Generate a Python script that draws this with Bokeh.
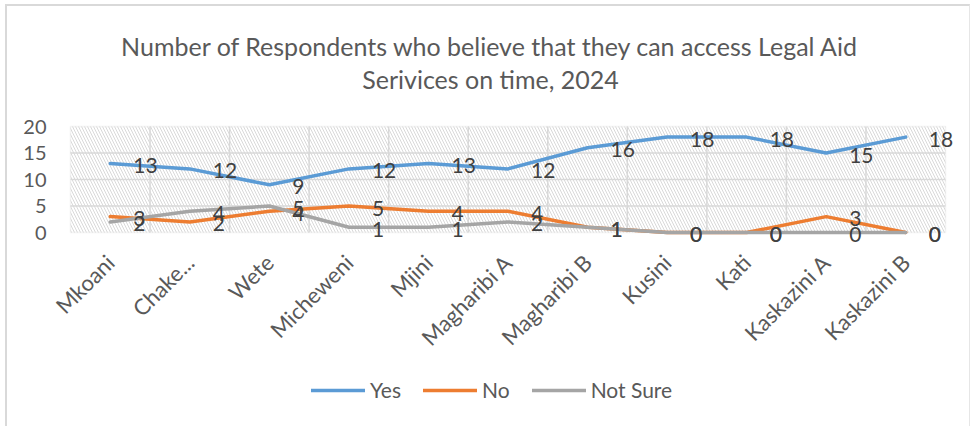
import math
from bokeh.plotting import figure
from bokeh.models import (ColumnDataSource, LabelSet, Label, Legend, LegendItem,
                          BoxAnnotation, FixedTicker, Range1d)
from bokeh.core.properties import value
from bokeh.embed import file_html
from bokeh.resources import INLINE

# ---------------- data ----------------
categories = ["Mkoani", "Chake...", "Wete", "Micheweni", "Mjini", "Magharibi A",
              "Magharibi B", "Kusini", "Kati", "Kaskazini A", "Kaskazini B"]
yes = [13, 12, 9, 12, 13, 12, 16, 18, 18, 15, 18]
no = [3, 2, 4, 5, 4, 4, 1, 0, 0, 3, 0]
not_sure = [2, 4, 5, 1, 1, 2, 1, 0, 0, 0, 0]
series_names = ["Yes", "No", "Not Sure"]
title_lines = ["Number of Respondents who believe that they can access Legal Aid",
               "Serivices on time, 2024"]
y_ticks = [0, 5, 10, 15, 20]

# ---------------- style / layout ----------------
colors = ["#5B9BD5", "#ED7D31", "#A5A5A5"]
FONT = "Lato"
TEXT = "#595959"
GRID = "#d9d9d9"
W, H = 965, 422            # canvas size
PLOT_L, PLOT_R = 63, 938   # plot area in canvas px
PLOT_T, PLOT_B = 120, 226

n = len(categories)
xs = [i + 0.5 for i in range(n)]
ymin, ymax = y_ticks[0], y_ticks[-1]
px_x = (PLOT_R - PLOT_L) / n
px_y = (PLOT_B - PLOT_T) / (ymax - ymin)
x_range = Range1d(-PLOT_L / px_x, n + (W - PLOT_R) / px_x)
y_range = Range1d(ymin - (H - PLOT_B) / px_y, ymax + PLOT_T / px_y)

p = figure(width=W, height=H, x_range=x_range, y_range=y_range,
           output_backend="svg", toolbar_location=None, title_location=None,
           min_border=0)
p.styles = {"margin-left": "5px", "margin-top": "4px",
            "border-left": "2px solid #d9d9d9", "border-top": "2px solid #d9d9d9",
            "border-right": "1px solid #e6e6e6"}
p.background_fill_color = "white"
p.border_fill_color = "white"
p.outline_line_color = None
p.grid.visible = False

# hatched plot area with outline
p.add_layout(BoxAnnotation(left=0, right=n, bottom=ymin, top=ymax,
                           fill_alpha=0, line_color=GRID, line_width=1.5,
                           hatch_pattern="\\", hatch_color=GRID, hatch_scale=6,
                           hatch_weight=1, level="image"))

# grid lines restricted to plot area
bounds = list(range(1, n))
p.segment(x0=bounds, x1=bounds, y0=[ymin] * len(bounds), y1=[ymax] * len(bounds),
          line_color=GRID, line_width=1.5, level="underlay")
inner_y = y_ticks[1:-1]
p.segment(x0=[0] * len(inner_y), x1=[n] * len(inner_y), y0=inner_y, y1=inner_y,
          line_color=GRID, line_width=1.5, level="underlay")

# axes fixed at the plot area edges
p.xaxis.fixed_location = 0
p.yaxis.fixed_location = 0
p.xaxis.ticker = FixedTicker(ticks=xs)
p.xaxis.major_label_overrides = {x: c for x, c in zip(xs, categories)}
p.xaxis.major_label_orientation = math.pi / 4
p.yaxis.ticker = FixedTicker(ticks=y_ticks)
for ax in (p.xaxis, p.yaxis):
    ax.axis_line_color = None
    ax.major_tick_line_color = None
    ax.minor_tick_line_color = None
    ax.major_label_text_font = FONT
    ax.major_label_text_color = TEXT
p.xaxis.major_label_text_font_size = "22px"
p.yaxis.major_label_text_font_size = "20px"
p.yaxis.major_label_standoff = 18
p.xaxis.major_label_standoff = 20

items = []
for name, vals, col in zip(series_names, [yes, no, not_sure], colors):
    r = p.line(x=xs, y=vals, line_color=col, line_width=3.5,
               line_join="round", line_cap="round")
    items.append(LegendItem(label=name, renderers=[r]))

for vals in [yes, no, not_sure]:
    src = ColumnDataSource(dict(x=xs, y=vals, t=[str(v) for v in vals]))
    p.add_layout(LabelSet(x="x", y="y", text="t", source=src, x_offset=23,
                          y_offset=-2, text_align="left", text_baseline="middle",
                          text_font=value(FONT), text_font_size="21px",
                          text_color="#404040"))

legend = Legend(items=items, orientation="horizontal", location=(304, 26),
                padding=0, margin=0, spacing=22, glyph_width=54, glyph_height=20,
                label_standoff=5, border_line_color=None, background_fill_alpha=0,
                label_text_font=FONT, label_text_font_size="21px",
                label_text_color=TEXT)
p.add_layout(legend)

for txt, ty in zip(title_lines, [383, 350]):
    p.add_layout(Label(x=483, y=ty, x_units="screen", y_units="screen", text=txt,
                       text_align="center", text_baseline="middle",
                       text_font=FONT, text_font_size="25px", text_color=TEXT))

open("out.html", "w").write(file_html(p, INLINE))
